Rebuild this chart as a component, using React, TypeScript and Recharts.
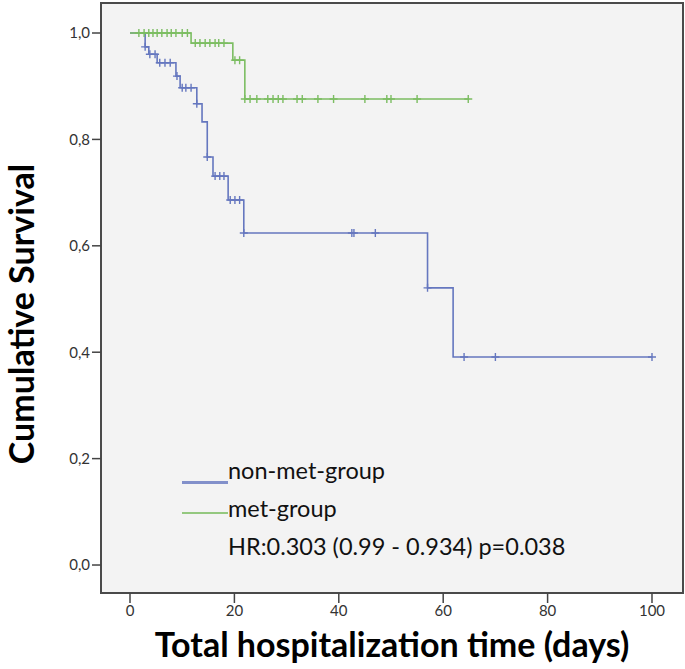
import React from 'react'
import {
  CartesianGrid, Legend, Line, LineChart, ReferenceArea, Scatter, XAxis, YAxis,
} from 'recharts'

// step points of the Kaplan-Meier curves (time in days, cumulative survival)
const nonMetTimes = [0, 2.9, 3.6, 5.2, 8.8, 9.6, 12.8, 13.8, 14.8, 15.9, 18.8, 21.8, 57.0, 61.9, 100]
const nonMetSurv = [1.0, 0.974, 0.96, 0.944, 0.919, 0.897, 0.867, 0.833, 0.767, 0.731, 0.686, 0.624, 0.521, 0.391, 0.391]
const nonMetCensored = [2.9, 3.8, 4.8, 5.7, 6.7, 7.7, 9.0, 10.0, 10.7, 11.7, 12.8, 14.8, 16.3, 17.2, 18.0, 19.2, 20.1, 21.0, 21.8, 42.5, 42.9, 47.0, 57.0, 64.0, 70.0, 100]

const metTimes = [0, 11.7, 19.7, 22.0, 65]
const metSurv = [1.0, 0.981, 0.949, 0.876, 0.876]
const metCensored = [1.7, 2.7, 3.6, 4.4, 5.2, 6.1, 7.1, 7.9, 8.8, 10.0, 11.0, 12.5, 13.4, 14.4, 15.3, 16.3, 17.0, 18.0, 20.1, 21.0, 22.0, 23.0, 24.3, 26.4, 27.4, 28.4, 29.3, 32.0, 33.0, 36.0, 39.0, 45.0, 49.2, 50.0, 55.0, 64.8]

const xTicks = [0, 20, 40, 60, 80, 100]
const yTicks = [0, 0.2, 0.4, 0.6, 0.8, 1.0]

const BLUE = '#6577bf'
const GREEN = '#7cbd62'
const FONT = 'Lato, "Open Sans", sans-serif'

function survAt(times: number[], surv: number[], t: number) {
  let s = surv[0]
  times.forEach((tt, i) => { if (t >= tt) s = surv[i] })
  return s
}

const nonMetLine = nonMetTimes.map((t, i) => ({ t, s: nonMetSurv[i] }))
const metLine = metTimes.map((t, i) => ({ t, s: metSurv[i] }))
const nonMetMarks = nonMetCensored.map((t) => ({ t, s: survAt(nonMetTimes, nonMetSurv, t) }))
const metMarks = metCensored.map((t) => ({ t, s: survAt(metTimes, metSurv, t) }))

const X_MIN = -5.556
const X_MAX = 105.94
const Y_MIN = -0.0526
const Y_MAX = 1.0564

function cross(color: string) {
  return (p: any) => (
    <path d={`M${p.cx - 4},${p.cy}H${p.cx + 4}M${p.cx},${p.cy - 4}V${p.cy + 4}`} stroke={color} strokeWidth={1.4} fill="none" />
  )
}

function LegendBox() {
  const txt = { position: 'absolute', left: 46, fontFamily: FONT, fontSize: 23.5, color: '#111', lineHeight: '28px', whiteSpace: 'nowrap' } as const
  const seg = { position: 'absolute', left: 0, width: 46, opacity: 0.8 } as const
  return (
    <div style={{ position: 'relative', width: 420, height: 120 }}>
      <span style={{ ...seg, top: 38, borderTop: `3px solid ${BLUE}` }} />
      <span style={{ ...txt, top: 13 }}>non-met-group</span>
      <span style={{ ...seg, top: 69, borderTop: `2px solid ${GREEN}` }} />
      <span style={{ ...txt, top: 51 }}>met-group</span>
      <span style={{ ...txt, top: 89 }}>HR:0.303 (0.99 - 0.934) p=0.038</span>
    </div>
  )
}

export default function App() {
  return (
    <div style={{ position: 'absolute', left: 0, top: 0, background: '#fff' }}>
      <LineChart width={685} height={669} margin={{ top: 3, right: 2, bottom: 0, left: 0 }}>
        <CartesianGrid fill="#f3f3f3" horizontal={false} vertical={false} />
        <XAxis
          type="number" dataKey="t" domain={[X_MIN, X_MAX]} ticks={xTicks} allowDataOverflow
          height={76} tickSize={10} tickLine={{ stroke: '#444', strokeWidth: 1.5 }}
          axisLine={false}
          tick={{ fontSize: 15, fill: '#333', fontFamily: FONT }}
          label={{
            content: () => (
              <text x={392} y={657} textAnchor="middle" fontFamily={FONT} fontWeight={700} fontSize={34} fill="#000">
                Total hospitalization time (days)
              </text>
            ),
          }}
        />
        <YAxis
          type="number" dataKey="s" domain={[Y_MIN, Y_MAX]} ticks={yTicks} allowDataOverflow
          width={101} tickSize={9} tickLine={{ stroke: '#444', strokeWidth: 1.5 }}
          axisLine={false}
          tickFormatter={(v: number) => v.toFixed(1).replace('.', ',')}
          tick={{ fontSize: 15, fill: '#333', fontFamily: FONT }}
          label={{
            content: () => (
              <text x={0} y={0} transform="translate(34,314) rotate(-90)" textAnchor="middle" fontFamily={FONT} fontWeight={700} fontSize={34} fill="#000">
                Cumulative Survival
              </text>
            ),
          }}
        />
        <ReferenceArea x1={X_MIN} x2={X_MAX} y1={Y_MIN} y2={Y_MAX} fill="none" stroke="#4a4a4a" strokeWidth={2} ifOverflow="visible" />
        <Line data={nonMetLine} dataKey="s" type="stepAfter" stroke={BLUE} strokeWidth={1.6} dot={false} isAnimationActive={false} />
        <Line data={metLine} dataKey="s" type="stepAfter" stroke={GREEN} strokeWidth={1.6} dot={false} isAnimationActive={false} />
        <Scatter data={nonMetMarks} dataKey="s" shape={cross(BLUE)} isAnimationActive={false} />
        <Scatter data={metMarks} dataKey="s" shape={cross(GREEN)} isAnimationActive={false} />
        <Legend
          layout="vertical" align="center" verticalAlign="middle"
          wrapperStyle={{ left: 182, top: 443, width: 420 }}
          content={() => <LegendBox />}
        />
      </LineChart>
    </div>
  )
}
